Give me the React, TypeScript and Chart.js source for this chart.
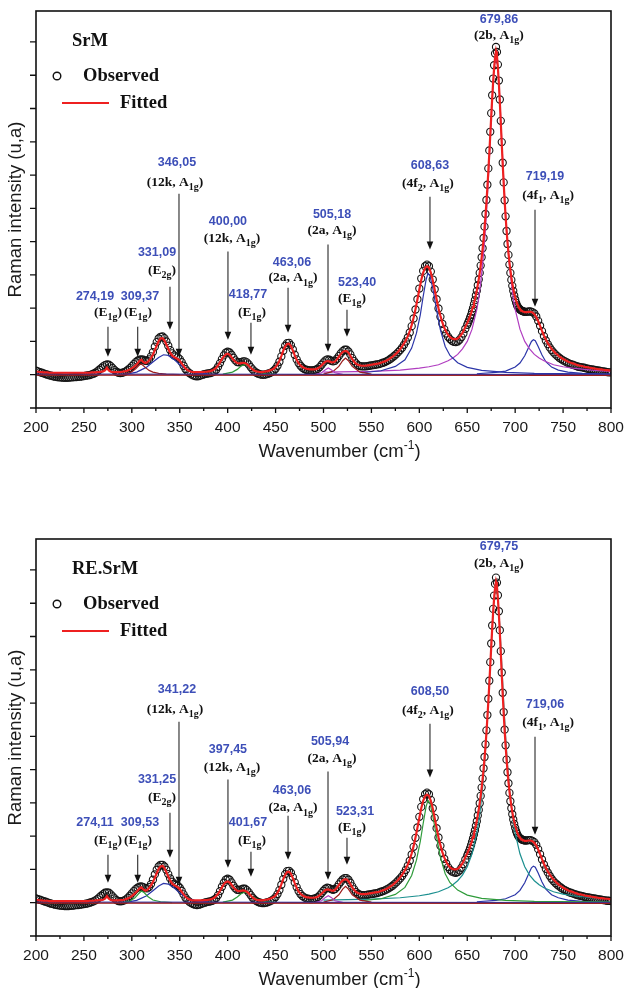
import React, { useEffect, useRef } from 'react';
import { Chart, registerables } from 'chart.js';

Chart.register(...registerables);

// wavenumber grid of the measured spectra: 2 cm-1 steps, 1 cm-1 around the 2b mode
const range = (a: number, b: number, step: number) => {
    const out: number[] = [];
    for (let v = a; v <= b + 1e-9; v += step) out.push(Math.round(v * 100) / 100);
    return out;
};
const obsGrid = [...range(200, 648, 2), ...range(650, 710, 1), ...range(712, 800, 2)];

// axis ticks
const xMajor = [200, 250, 300, 350, 400, 450, 500, 550, 600, 650, 700, 750, 800];
const xMinor = [225, 275, 325, 375, 425, 475, 525, 575, 625, 675, 725, 775];
const yTicks = [-1, 0, 1, 2, 3, 4, 5, 6, 7, 8, 9, 10];

// ---------- SrM ----------
const srmObsA = [
    0.12, 0.10, 0.08, 0.06, 0.04, 0.02, 0.00, -0.02, -0.03, -0.05,
    -0.06, -0.07, -0.08, -0.08, -0.09, -0.09, -0.09, -0.09, -0.08, -0.08,
    -0.07, -0.07, -0.06, -0.06, -0.05, -0.04, -0.03, -0.02, -0.01, 0.01,
    0.03, 0.06, 0.10, 0.15, 0.20, 0.25, 0.29, 0.31, 0.30, 0.26,
    0.20, 0.14, 0.09, 0.06, 0.05, 0.06, 0.08, 0.11, 0.15, 0.20,
    0.26, 0.32, 0.38, 0.42, 0.45, 0.46, 0.45, 0.42, 0.42, 0.46,
    0.55, 0.68, 0.84, 0.98, 1.09, 1.14, 1.15, 1.10, 1.00, 0.87,
    0.74, 0.64, 0.58, 0.55, 0.52, 0.47, 0.38, 0.27, 0.17, 0.10,
    0.05, 0.01, -0.02, -0.04, -0.05, -0.04, -0.02, 0.00, 0.02, 0.03,
    0.04, 0.05, 0.07, 0.10, 0.15, 0.24, 0.35, 0.47, 0.58, 0.66,
    0.69, 0.67, 0.60, 0.51, 0.43, 0.38, 0.37, 0.38, 0.40, 0.40,
    0.37, 0.31, 0.23, 0.16, 0.10, 0.06, 0.03, 0.01, 0.00, 0.00,
    0.01, 0.03, 0.05, 0.08, 0.12, 0.18, 0.27, 0.39, 0.55, 0.72,
    0.87, 0.95, 0.96, 0.89, 0.76, 0.60, 0.46, 0.35, 0.27, 0.21,
    0.17, 0.15, 0.14, 0.13, 0.13, 0.14, 0.15, 0.18, 0.23, 0.30,
    0.37, 0.43, 0.46, 0.45, 0.42, 0.40, 0.42, 0.48, 0.56, 0.64,
    0.71, 0.75, 0.75, 0.70, 0.61, 0.50, 0.41, 0.34, 0.29, 0.26,
    0.25, 0.25, 0.25, 0.26, 0.27, 0.28, 0.29, 0.30, 0.31, 0.32,
    0.34, 0.36, 0.38, 0.41, 0.44, 0.48, 0.52, 0.57, 0.62, 0.68,
    0.74, 0.81, 0.90, 1.00, 1.12, 1.27, 1.46, 1.69, 1.96, 2.27,
    2.59, 2.89, 3.12, 3.26, 3.31, 3.26, 3.10, 2.86, 2.57, 2.27,
    1.99, 1.74, 1.53, 1.37, 1.24, 1.14, 1.07, 1.02, 0.99, 0.98,
    1.00, 1.05, 1.13, 1.24, 1.38,
];
const srmObsB = [
    1.50, 1.57, 1.64, 1.72, 1.80, 1.90, 2.00, 2.12, 2.24, 2.38,
    2.52, 2.69, 2.86, 3.06, 3.28, 3.53, 3.80, 4.11, 4.45, 4.83,
    5.25, 5.71, 6.20, 6.74, 7.30, 7.86, 8.40, 8.90, 9.30, 9.65,
    9.85, 9.70, 9.32, 8.84, 8.27, 7.63, 6.99, 6.37, 5.78, 5.24,
    4.76, 4.32, 3.93, 3.60, 3.31, 3.06, 2.85, 2.67, 2.52, 2.38,
    2.26, 2.16, 2.08, 2.03, 1.99, 1.96, 1.94, 1.92, 1.91, 1.90,
    1.89,
];
const srmObsC = [
    1.89, 1.90, 1.90, 1.88, 1.84, 1.75, 1.62, 1.47, 1.31, 1.16,
    1.03, 0.92, 0.82, 0.74, 0.67, 0.61, 0.56, 0.51, 0.47, 0.43,
    0.40, 0.37, 0.34, 0.32, 0.30, 0.28, 0.26, 0.24, 0.23, 0.22,
    0.21, 0.19, 0.18, 0.17, 0.16, 0.15, 0.14, 0.13, 0.12, 0.11,
    0.10, 0.09, 0.08, 0.07, 0.07,
];
const srmFitA = [
    0.10, 0.09, 0.08, 0.08, 0.07, 0.07, 0.07, 0.06, 0.06, 0.06,
    0.06, 0.06, 0.06, 0.06, 0.06, 0.06, 0.06, 0.06, 0.06, 0.06,
    0.06, 0.06, 0.06, 0.06, 0.06, 0.06, 0.06, 0.06, 0.06, 0.07,
    0.07, 0.07, 0.08, 0.08, 0.09, 0.10, 0.13, 0.21, 0.13, 0.09,
    0.08, 0.08, 0.08, 0.08, 0.08, 0.09, 0.10, 0.11, 0.13, 0.16,
    0.19, 0.23, 0.28, 0.34, 0.42, 0.45, 0.38, 0.35, 0.37, 0.43,
    0.50, 0.60, 0.74, 0.88, 1.01, 1.09, 1.10, 1.03, 0.91, 0.78,
    0.66, 0.58, 0.53, 0.50, 0.47, 0.42, 0.34, 0.26, 0.19, 0.14,
    0.11, 0.09, 0.08, 0.08, 0.08, 0.08, 0.08, 0.08, 0.09, 0.09,
    0.10, 0.11, 0.13, 0.16, 0.21, 0.28, 0.37, 0.47, 0.55, 0.61,
    0.63, 0.60, 0.53, 0.45, 0.39, 0.35, 0.34, 0.35, 0.36, 0.35,
    0.32, 0.27, 0.21, 0.16, 0.12, 0.10, 0.09, 0.08, 0.08, 0.09,
    0.10, 0.11, 0.13, 0.15, 0.18, 0.23, 0.31, 0.42, 0.56, 0.72,
    0.85, 0.92, 0.93, 0.86, 0.73, 0.58, 0.45, 0.35, 0.28, 0.23,
    0.20, 0.18, 0.17, 0.16, 0.16, 0.16, 0.17, 0.19, 0.23, 0.28,
    0.34, 0.39, 0.41, 0.40, 0.38, 0.37, 0.40, 0.46, 0.54, 0.62,
    0.68, 0.71, 0.71, 0.66, 0.57, 0.47, 0.39, 0.33, 0.30, 0.28,
    0.27, 0.27, 0.27, 0.28, 0.29, 0.30, 0.31, 0.32, 0.33, 0.34,
    0.36, 0.38, 0.40, 0.43, 0.46, 0.50, 0.54, 0.59, 0.64, 0.70,
    0.77, 0.85, 0.94, 1.04, 1.16, 1.31, 1.49, 1.71, 1.97, 2.26,
    2.56, 2.85, 3.07, 3.21, 3.26, 3.22, 3.07, 2.84, 2.56, 2.27,
    2.00, 1.77, 1.57, 1.41, 1.29, 1.20, 1.13, 1.09, 1.07, 1.07,
    1.09, 1.14, 1.21, 1.31, 1.44,
];
const srmFitB = [
    1.55, 1.62, 1.69, 1.77, 1.85, 1.94, 2.04, 2.15, 2.27, 2.40,
    2.54, 2.70, 2.87, 3.06, 3.27, 3.51, 3.77, 4.06, 4.39, 4.76,
    5.17, 5.62, 6.11, 6.64, 7.19, 7.75, 8.29, 8.79, 9.20, 9.52,
    9.72, 9.58, 9.22, 8.75, 8.19, 7.57, 6.94, 6.33, 5.76, 5.24,
    4.77, 4.35, 3.98, 3.66, 3.38, 3.14, 2.93, 2.75, 2.59, 2.45,
    2.33, 2.23, 2.14, 2.07, 2.01, 1.97, 1.94, 1.92, 1.90, 1.89,
    1.88,
];
const srmFitC = [
    1.88, 1.89, 1.89, 1.87, 1.82, 1.73, 1.61, 1.47, 1.32, 1.18,
    1.06, 0.95, 0.86, 0.78, 0.71, 0.65, 0.60, 0.55, 0.51, 0.47,
    0.44, 0.41, 0.38, 0.36, 0.34, 0.32, 0.30, 0.28, 0.27, 0.26,
    0.24, 0.23, 0.22, 0.21, 0.20, 0.19, 0.18, 0.17, 0.16, 0.16,
    0.15, 0.14, 0.14, 0.13, 0.13,
];

// ---------- RE.SrM ----------
const reObsA = [
    0.13, 0.11, 0.09, 0.07, 0.05, 0.03, 0.01, -0.01, -0.03, -0.04,
    -0.06, -0.07, -0.08, -0.09, -0.09, -0.10, -0.10, -0.10, -0.09, -0.09,
    -0.08, -0.07, -0.07, -0.06, -0.05, -0.04, -0.03, -0.02, 0.00, 0.02,
    0.04, 0.07, 0.11, 0.16, 0.21, 0.26, 0.30, 0.31, 0.30, 0.25,
    0.19, 0.13, 0.08, 0.05, 0.04, 0.05, 0.07, 0.10, 0.15, 0.21,
    0.28, 0.35, 0.41, 0.45, 0.48, 0.49, 0.47, 0.44, 0.43, 0.47,
    0.56, 0.69, 0.85, 0.99, 1.09, 1.14, 1.14, 1.09, 0.99, 0.86,
    0.73, 0.63, 0.57, 0.54, 0.51, 0.45, 0.36, 0.25, 0.15, 0.08,
    0.03, -0.01, -0.04, -0.06, -0.07, -0.06, -0.04, -0.02, 0.00, 0.02,
    0.03, 0.04, 0.06, 0.09, 0.14, 0.23, 0.35, 0.48, 0.60, 0.69,
    0.72, 0.69, 0.61, 0.51, 0.43, 0.39, 0.38, 0.40, 0.42, 0.42,
    0.38, 0.31, 0.23, 0.15, 0.09, 0.05, 0.02, 0.00, -0.01, -0.01,
    0.00, 0.02, 0.04, 0.07, 0.11, 0.17, 0.26, 0.38, 0.54, 0.71,
    0.86, 0.95, 0.96, 0.90, 0.77, 0.61, 0.47, 0.35, 0.26, 0.20,
    0.16, 0.13, 0.12, 0.11, 0.11, 0.12, 0.14, 0.17, 0.22, 0.29,
    0.36, 0.42, 0.45, 0.44, 0.41, 0.39, 0.41, 0.47, 0.55, 0.63,
    0.70, 0.74, 0.74, 0.69, 0.60, 0.49, 0.40, 0.32, 0.27, 0.24,
    0.23, 0.23, 0.23, 0.24, 0.25, 0.26, 0.27, 0.28, 0.29, 0.31,
    0.33, 0.35, 0.37, 0.40, 0.43, 0.47, 0.51, 0.56, 0.61, 0.67,
    0.73, 0.80, 0.89, 0.99, 1.11, 1.26, 1.45, 1.68, 1.95, 2.26,
    2.58, 2.88, 3.11, 3.26, 3.31, 3.26, 3.09, 2.84, 2.55, 2.24,
    1.96, 1.71, 1.49, 1.32, 1.18, 1.07, 0.99, 0.94, 0.91, 0.90,
    0.92, 0.97, 1.05, 1.16, 1.30,
];
const reObsB = [
    1.42, 1.49, 1.56, 1.64, 1.73, 1.83, 1.93, 2.05, 2.17, 2.31,
    2.45, 2.62, 2.79, 2.99, 3.21, 3.46, 3.73, 4.04, 4.38, 4.76,
    5.18, 5.64, 6.13, 6.67, 7.23, 7.79, 8.33, 8.83, 9.23, 9.58,
    9.77, 9.62, 9.24, 8.76, 8.19, 7.56, 6.92, 6.31, 5.73, 5.20,
    4.73, 4.30, 3.92, 3.59, 3.30, 3.05, 2.84, 2.66, 2.50, 2.37,
    2.25, 2.15, 2.07, 2.01, 1.97, 1.94, 1.92, 1.90, 1.89, 1.88,
    1.87,
];
const reObsC = [
    1.87, 1.88, 1.88, 1.86, 1.82, 1.74, 1.61, 1.46, 1.30, 1.15,
    1.02, 0.91, 0.81, 0.72, 0.65, 0.59, 0.54, 0.49, 0.45, 0.41,
    0.38, 0.35, 0.32, 0.30, 0.28, 0.26, 0.24, 0.22, 0.21, 0.20,
    0.18, 0.17, 0.16, 0.15, 0.14, 0.13, 0.12, 0.11, 0.10, 0.09,
    0.08, 0.07, 0.06, 0.06, 0.05,
];
const reFitA = [
    0.09, 0.08, 0.07, 0.07, 0.06, 0.06, 0.06, 0.05, 0.05, 0.05,
    0.05, 0.05, 0.05, 0.05, 0.05, 0.05, 0.05, 0.05, 0.05, 0.05,
    0.05, 0.05, 0.05, 0.05, 0.05, 0.05, 0.05, 0.05, 0.06, 0.06,
    0.06, 0.07, 0.07, 0.08, 0.08, 0.09, 0.12, 0.20, 0.12, 0.08,
    0.07, 0.07, 0.07, 0.07, 0.08, 0.08, 0.09, 0.11, 0.13, 0.16,
    0.20, 0.25, 0.30, 0.36, 0.43, 0.46, 0.40, 0.36, 0.38, 0.44,
    0.52, 0.62, 0.75, 0.89, 1.02, 1.09, 1.11, 1.04, 0.92, 0.79,
    0.67, 0.58, 0.53, 0.50, 0.46, 0.41, 0.33, 0.25, 0.18, 0.13,
    0.10, 0.08, 0.07, 0.07, 0.07, 0.07, 0.07, 0.07, 0.08, 0.08,
    0.09, 0.10, 0.12, 0.15, 0.20, 0.27, 0.36, 0.46, 0.56, 0.62,
    0.64, 0.61, 0.54, 0.46, 0.40, 0.36, 0.35, 0.36, 0.37, 0.36,
    0.33, 0.28, 0.22, 0.16, 0.12, 0.09, 0.08, 0.07, 0.07, 0.08,
    0.09, 0.10, 0.12, 0.14, 0.17, 0.22, 0.30, 0.41, 0.55, 0.71,
    0.84, 0.92, 0.93, 0.87, 0.74, 0.59, 0.45, 0.34, 0.27, 0.22,
    0.19, 0.17, 0.16, 0.15, 0.15, 0.15, 0.16, 0.18, 0.22, 0.27,
    0.33, 0.38, 0.40, 0.39, 0.37, 0.36, 0.39, 0.45, 0.53, 0.61,
    0.67, 0.70, 0.70, 0.65, 0.56, 0.46, 0.38, 0.32, 0.29, 0.27,
    0.26, 0.26, 0.26, 0.27, 0.28, 0.29, 0.30, 0.31, 0.32, 0.33,
    0.35, 0.37, 0.39, 0.42, 0.45, 0.49, 0.53, 0.58, 0.63, 0.69,
    0.76, 0.84, 0.93, 1.03, 1.15, 1.30, 1.48, 1.70, 1.96, 2.25,
    2.55, 2.84, 3.06, 3.20, 3.25, 3.21, 3.06, 2.83, 2.55, 2.25,
    1.97, 1.73, 1.52, 1.36, 1.23, 1.13, 1.06, 1.02, 1.00, 1.00,
    1.02, 1.07, 1.14, 1.24, 1.37,
];
const reFitB = [
    1.48, 1.55, 1.62, 1.70, 1.78, 1.87, 1.97, 2.08, 2.20, 2.33,
    2.47, 2.63, 2.80, 2.99, 3.20, 3.44, 3.70, 3.99, 4.32, 4.69,
    5.10, 5.55, 6.04, 6.57, 7.12, 7.68, 8.22, 8.72, 9.13, 9.45,
    9.64, 9.50, 9.14, 8.67, 8.11, 7.50, 6.87, 6.27, 5.70, 5.19,
    4.73, 4.32, 3.96, 3.64, 3.36, 3.12, 2.91, 2.73, 2.57, 2.43,
    2.31, 2.21, 2.12, 2.05, 1.99, 1.95, 1.92, 1.90, 1.88, 1.87,
    1.86,
];
const reFitC = [
    1.86, 1.87, 1.87, 1.85, 1.80, 1.72, 1.60, 1.46, 1.31, 1.17,
    1.05, 0.94, 0.85, 0.77, 0.70, 0.64, 0.58, 0.53, 0.49, 0.45,
    0.42, 0.39, 0.36, 0.34, 0.32, 0.30, 0.28, 0.26, 0.25, 0.24,
    0.22, 0.21, 0.20, 0.19, 0.18, 0.17, 0.16, 0.15, 0.14, 0.14,
    0.13, 0.12, 0.12, 0.11, 0.11,
];

// ---------- fitted components (x in cm-1, y in a.u.) ----------
const baseX = [200, 800];
const srmBaseY = [0.02, 0.0];
const srmBase2Y = [-0.01, -0.02];
const c309X = [288, 296, 300, 304, 307, 309, 311, 314, 318, 322, 328, 336, 350];
const srm309Y = [0.0, 0.04, 0.09, 0.18, 0.27, 0.32, 0.30, 0.22, 0.13, 0.08, 0.04, 0.02, 0.0];
const c340X = [295, 305, 315, 322, 328, 333, 338, 344, 350, 358, 368, 380];
const srm340Y = [0.02, 0.08, 0.22, 0.38, 0.52, 0.60, 0.58, 0.46, 0.30, 0.14, 0.05, 0.02];
const c418X = [395, 405, 410, 414, 418, 422, 426, 432, 440, 450];
const srm418Y = [0.02, 0.08, 0.16, 0.26, 0.31, 0.26, 0.17, 0.08, 0.03, 0.01];
const c505X = [490, 498, 502, 505, 508, 512, 520];
const srm505Y = [0.0, 0.06, 0.15, 0.20, 0.15, 0.06, 0.01];
const c523X = [500, 510, 516, 520, 523, 526, 530, 538, 550];
const srm523Y = [0.02, 0.10, 0.25, 0.42, 0.50, 0.42, 0.25, 0.08, 0.02];
const c608X = [540, 560, 575, 585, 592, 597, 601, 604, 607, 609, 611, 614, 618, 622, 627, 632, 640, 650, 665, 690, 720, 800];
const srm608Y = [0.06, 0.12, 0.25, 0.45, 0.80, 1.25, 1.80, 2.35, 2.85, 3.05, 2.98, 2.60, 1.95, 1.35, 0.85, 0.58, 0.36, 0.22, 0.13, 0.07, 0.04, 0.02];
const mainX = [500, 550, 580, 600, 610, 620, 630, 635, 640, 645, 650, 655, 660, 662, 664, 666, 668, 670, 672, 674, 676, 678, 680, 682, 684, 686, 688, 690, 692, 694, 696, 698, 700, 705, 710, 715, 720, 725, 730, 740, 750, 760, 780, 800];
const srmMainY = [0.08, 0.10, 0.14, 0.20, 0.24, 0.30, 0.42, 0.50, 0.61, 0.78, 1.00, 1.37, 1.96, 2.30, 2.78, 3.30, 3.97, 4.83, 5.87, 7.07, 8.28, 9.23, 9.60, 9.23, 8.28, 7.07, 5.87, 4.83, 3.97, 3.30, 2.78, 2.30, 1.96, 1.37, 1.00, 0.78, 0.61, 0.50, 0.42, 0.30, 0.24, 0.20, 0.14, 0.10];
const c719X = [660, 680, 690, 700, 705, 710, 714, 717, 719, 721, 724, 728, 732, 738, 745, 755, 770, 800];
const srm719Y = [0.03, 0.07, 0.11, 0.23, 0.35, 0.57, 0.82, 1.00, 1.05, 1.02, 0.85, 0.59, 0.39, 0.23, 0.14, 0.08, 0.04, 0.02];

const reBaseY = [0.02, 0.0];
const reBase2Y = [-0.01, -0.02];
const re309X = [290, 298, 303, 307, 310, 313, 317, 322, 330, 342];
const re309Y = [0.0, 0.05, 0.14, 0.27, 0.35, 0.30, 0.18, 0.08, 0.03, 0.0];
const re340Y = [0.02, 0.07, 0.20, 0.36, 0.50, 0.58, 0.56, 0.45, 0.29, 0.13, 0.05, 0.02];
const re418Y = [0.02, 0.08, 0.17, 0.27, 0.32, 0.27, 0.18, 0.09, 0.03, 0.01];
const re505Y = [0.0, 0.06, 0.16, 0.21, 0.16, 0.06, 0.01];
const re523Y = [0.02, 0.09, 0.24, 0.41, 0.49, 0.41, 0.24, 0.08, 0.02];
const re608Y = [0.06, 0.12, 0.25, 0.46, 0.82, 1.28, 1.84, 2.38, 2.88, 3.08, 3.00, 2.62, 1.97, 1.37, 0.87, 0.60, 0.38, 0.23, 0.13, 0.07, 0.04, 0.02];
const reMainY = [0.08, 0.11, 0.15, 0.21, 0.26, 0.33, 0.45, 0.54, 0.66, 0.83, 1.08, 1.47, 2.09, 2.45, 2.89, 3.45, 4.15, 5.01, 6.03, 7.17, 8.30, 9.17, 9.50, 9.17, 8.30, 7.17, 6.03, 5.01, 4.15, 3.45, 2.89, 2.45, 2.09, 1.47, 1.08, 0.83, 0.66, 0.54, 0.45, 0.33, 0.26, 0.21, 0.15, 0.12];
const re719Y = [0.03, 0.07, 0.12, 0.24, 0.37, 0.60, 0.86, 1.05, 1.10, 1.07, 0.89, 0.62, 0.41, 0.24, 0.15, 0.08, 0.04, 0.02];

// ---------- peak labels ----------
const srmPeaks = ['274,19', '309,37', '331,09', '346,05', '400,00', '418,77', '463,06', '505,18', '523,40', '608,63', '679,86', '719,19'];
const rePeaks = ['274,11', '309,53', '331,25', '341,22', '397,45', '401,67', '463,06', '505,94', '523,31', '608,50', '679,75', '719,06'];
const modes = ['(E_{1g})', '(E_{1g})', '(E_{2g})', '(12k, A_{1g})', '(12k, A_{1g})', '(E_{1g})', '(2a, A_{1g})', '(2a, A_{1g})', '(E_{1g})', '(4f_{2}, A_{1g})', '(2b, A_{1g})', '(4f_{1}, A_{1g})'];

// label placement in axis units: [numX, numY, modeX, modeY, arrowX, arrowTop, arrowTip]
const srmLabelPos = [
    [261.6, 2.34, 275.1, 1.89, 275.1, 1.44, 0.54],
    [308.5, 2.34, 306.4, 1.89, 306.1, 1.44, 0.54],
    [326.3, 3.67, 331.5, 3.16, 339.8, 2.64, 1.35],
    [347.1, 6.37, 345.0, 5.80, 349.2, 5.44, 0.54],
    [400.3, 4.60, 404.5, 4.12, 400.3, 3.70, 1.05],
    [421.2, 2.40, 425.4, 1.89, 424.3, 1.56, 0.60],
    [467.1, 3.37, 468.2, 2.94, 463.0, 2.61, 1.26],
    [508.9, 4.81, 508.9, 4.36, 504.7, 3.91, 0.69],
    [535.0, 2.76, 529.7, 2.31, 524.5, 1.95, 1.14],
    [611.1, 6.28, 609.0, 5.77, 611.1, 5.35, 3.76],
    [683.1, 10.67, 683.1, 10.22],
    [731.1, 5.95, 734.3, 5.41, 720.7, 4.96, 2.04],
];
const reLabelPos = [
    [261.6, 2.40, 275.1, 1.89, 275.1, 1.44, 0.60],
    [308.5, 2.40, 306.4, 1.89, 306.1, 1.44, 0.60],
    [326.3, 3.70, 331.5, 3.19, 339.8, 2.70, 1.35],
    [347.1, 6.40, 345.0, 5.83, 349.2, 5.44, 0.54],
    [400.3, 4.60, 404.5, 4.09, 400.3, 3.70, 1.05],
    [421.2, 2.40, 425.4, 1.89, 424.3, 1.53, 0.78],
    [467.1, 3.37, 468.2, 2.88, 463.0, 2.61, 1.29],
    [506.8, 4.84, 508.9, 4.36, 504.7, 3.94, 0.69],
    [532.9, 2.73, 529.7, 2.28, 524.5, 1.95, 1.14],
    [611.1, 6.34, 609.0, 5.80, 611.1, 5.38, 3.76],
    [683.1, 10.70, 683.1, 10.22],
    [731.1, 5.95, 734.3, 5.44, 720.7, 4.99, 2.04],
];

const RED = '#ee2020';
const BLUE = '#2b35a8';
const MAGENTA = '#b03cc0';
const GREEN = '#2e9b3a';
const TEAL = '#1b8f8f';
const DARKRED = '#9b1c1c';
const NUM_BLUE = '#3d4fb8';
const SANS = '"Liberation Sans", Arial, sans-serif';
const SERIF = '"Liberation Serif", "Times New Roman", serif';

interface Comp { x: number[]; y: number[]; color: string }
interface PanelData {
    name: string;
    obs: number[];
    fit: number[];
    comps: Comp[];
    peaks: string[];
    labelPos: number[][];
    height: number;
}

const srmPanel: PanelData = {
    name: 'SrM',
    obs: [...srmObsA, ...srmObsB, ...srmObsC],
    fit: [...srmFitA, ...srmFitB, ...srmFitC],
    comps: [
        { x: baseX, y: srmBase2Y, color: DARKRED },
        { x: baseX, y: srmBaseY, color: BLUE },
        { x: c309X, y: srm309Y, color: DARKRED },
        { x: c340X, y: srm340Y, color: BLUE },
        { x: c418X, y: srm418Y, color: GREEN },
        { x: c505X, y: srm505Y, color: MAGENTA },
        { x: c523X, y: srm523Y, color: DARKRED },
        { x: c608X, y: srm608Y, color: BLUE },
        { x: mainX, y: srmMainY, color: MAGENTA },
        { x: c719X, y: srm719Y, color: BLUE },
    ],
    peaks: srmPeaks,
    labelPos: srmLabelPos,
    height: 528,
};

const rePanel: PanelData = {
    name: 'RE.SrM',
    obs: [...reObsA, ...reObsB, ...reObsC],
    fit: [...reFitA, ...reFitB, ...reFitC],
    comps: [
        { x: baseX, y: reBase2Y, color: DARKRED },
        { x: baseX, y: reBaseY, color: BLUE },
        { x: re309X, y: re309Y, color: GREEN },
        { x: c340X, y: re340Y, color: BLUE },
        { x: c418X, y: re418Y, color: GREEN },
        { x: c505X, y: re505Y, color: MAGENTA },
        { x: c523X, y: re523Y, color: DARKRED },
        { x: c608X, y: re608Y, color: GREEN },
        { x: mainX, y: reMainY, color: TEAL },
        { x: c719X, y: re719Y, color: BLUE },
    ],
    peaks: rePeaks,
    labelPos: reLabelPos,
    height: 460,
};

const pts = (xs: number[], ys: number[]) => xs.map((x, i) => ({ x, y: ys[i] }));

// draws "(12k, A_{1g})" style text with subscripts, centred on (cx, cy)
const drawRich = (ctx: CanvasRenderingContext2D, text: string, cx: number, cy: number, size: number) => {
    const parts = text.split(/_\{([^}]*)\}/);
    const big = `bold ${size}px ${SERIF}`;
    const small = `bold ${Math.round(size * 0.76)}px ${SERIF}`;
    let w = 0;
    parts.forEach((p, i) => { ctx.font = i % 2 ? small : big; w += ctx.measureText(p).width; });
    let x = cx - w / 2;
    ctx.textAlign = 'left';
    ctx.textBaseline = 'alphabetic';
    parts.forEach((p, i) => {
        ctx.font = i % 2 ? small : big;
        ctx.fillText(p, x, cy + size * 0.34 + (i % 2 ? size * 0.3 : 0));
        x += ctx.measureText(p).width;
    });
};

const drawArrow = (ctx: CanvasRenderingContext2D, x: number, y0: number, y1: number) => {
    ctx.strokeStyle = '#3a3a3a';
    ctx.lineWidth = 1.2;
    ctx.beginPath();
    ctx.moveTo(x, y0);
    ctx.lineTo(x, y1 - 6);
    ctx.stroke();
    ctx.fillStyle = '#111';
    ctx.beginPath();
    ctx.moveTo(x, y1);
    ctx.lineTo(x - 3.3, y1 - 8);
    ctx.lineTo(x + 3.3, y1 - 8);
    ctx.closePath();
    ctx.fill();
};

const decorPlugin = (p: PanelData) => ({
    id: 'decor',
    afterDatasetsDraw(chart: any) {
        const { ctx, chartArea: a } = chart;
        const px = (v: number) => chart.scales.x.getPixelForValue(v);
        const py = (v: number) => chart.scales.y.getPixelForValue(v);
        ctx.save();

        // frame and ticks
        ctx.strokeStyle = '#111';
        ctx.lineWidth = 1.6;
        ctx.strokeRect(a.left, a.top, a.right - a.left, a.bottom - a.top);
        ctx.lineWidth = 1.3;
        ctx.beginPath();
        xMajor.forEach((v) => { ctx.moveTo(px(v), a.bottom); ctx.lineTo(px(v), a.bottom + 5); });
        xMinor.forEach((v) => { ctx.moveTo(px(v), a.bottom); ctx.lineTo(px(v), a.bottom + 3); });
        yTicks.forEach((v) => { ctx.moveTo(a.left, py(v)); ctx.lineTo(a.left - 6, py(v)); });
        ctx.stroke();

        // tick labels
        ctx.fillStyle = '#1a1a1a';
        ctx.font = `15.5px ${SANS}`;
        ctx.textAlign = 'center';
        ctx.textBaseline = 'middle';
        xMajor.forEach((v) => ctx.fillText(String(v), px(v), a.bottom + 20));

        // x title with superscript
        const segs: [string, boolean][] = [['Wavenumber (cm', false], ['-1', true], [')', false]];
        const fBig = `18.5px ${SANS}`;
        const fSup = `12px ${SANS}`;
        let tw = 0;
        segs.forEach(([s, sup]) => { ctx.font = sup ? fSup : fBig; tw += ctx.measureText(s).width; });
        let tx = 339.5 - tw / 2;
        ctx.textAlign = 'left';
        ctx.textBaseline = 'alphabetic';
        segs.forEach(([s, sup]) => {
            ctx.font = sup ? fSup : fBig;
            ctx.fillText(s, tx, a.bottom + 49 + (sup ? -8 : 0));
            tx += ctx.measureText(s).width;
        });

        // y title
        ctx.save();
        ctx.translate(16, (a.top + a.bottom) / 2);
        ctx.rotate(-Math.PI / 2);
        ctx.font = `18.5px ${SANS}`;
        ctx.textAlign = 'center';
        ctx.textBaseline = 'middle';
        ctx.fillText('Raman intensity (u,a)', 0, 0);
        ctx.restore();

        // legend
        ctx.fillStyle = '#111';
        ctx.font = `bold 18.5px ${SERIF}`;
        ctx.textAlign = 'left';
        ctx.textBaseline = 'middle';
        ctx.fillText(p.name, a.left + 36, a.top + 30);
        ctx.fillText('Observed', a.left + 47, a.top + 65);
        ctx.fillText('Fitted', a.left + 84, a.top + 92);
        ctx.strokeStyle = '#111';
        ctx.lineWidth = 1.4;
        ctx.beginPath();
        ctx.arc(a.left + 21, a.top + 65, 3.8, 0, Math.PI * 2);
        ctx.stroke();
        ctx.strokeStyle = RED;
        ctx.lineWidth = 2;
        ctx.beginPath();
        ctx.moveTo(a.left + 26, a.top + 92);
        ctx.lineTo(a.left + 73, a.top + 92);
        ctx.stroke();

        // peak annotations
        p.peaks.forEach((num, i) => {
            const pos = p.labelPos[i];
            ctx.fillStyle = NUM_BLUE;
            ctx.font = `bold 12.5px ${SANS}`;
            ctx.textAlign = 'center';
            ctx.textBaseline = 'middle';
            ctx.fillText(num, px(pos[0]), py(pos[1]));
            ctx.fillStyle = '#111';
            drawRich(ctx, modes[i], px(pos[2]), py(pos[3]), 13.5);
            if (pos.length > 4) drawArrow(ctx, px(pos[4]), py(pos[5]), py(pos[6]));
        });

        ctx.restore();
    },
});

const buildConfig = (p: PanelData): any => ({
    type: 'scatter',
    data: {
        datasets: [
            {
                label: 'Fitted',
                data: pts(obsGrid, p.fit),
                showLine: true,
                borderColor: RED,
                borderWidth: 2.2,
                pointRadius: 0,
                order: 0,
            },
            ...p.comps.map((c) => ({
                data: pts(c.x, c.y),
                showLine: true,
                borderColor: c.color,
                borderWidth: 1.2,
                pointRadius: 0,
                order: 1,
            })),
            {
                label: 'Observed',
                data: pts(obsGrid, p.obs),
                showLine: false,
                pointRadius: 3.6,
                pointBorderWidth: 1.1,
                pointBorderColor: '#141414',
                pointBackgroundColor: 'rgba(255,255,255,0)',
                order: 2,
            },
        ],
    },
    options: {
        animation: false,
        responsive: true,
        maintainAspectRatio: false,
        events: [],
        layout: { padding: { left: 36, right: 13, top: 11, bottom: p.height - 408 } },
        plugins: { legend: { display: false }, tooltip: { enabled: false } },
        scales: {
            x: { type: 'linear', min: 200, max: 800, display: false },
            y: { type: 'linear', min: -1, max: 10.93, display: false },
        },
    },
    plugins: [decorPlugin(p)],
});

const SpectrumPanel = ({ panel }: { panel: PanelData }) => {
    const canvasRef = useRef<HTMLCanvasElement>(null);

    useEffect(() => {
        if (!canvasRef.current) return;
        const chart = new Chart(canvasRef.current, buildConfig(panel));
        return () => chart.destroy();
    }, [panel]);

    return (
        <div style={{ position: 'relative', width: 624, height: panel.height }}>
            <canvas ref={canvasRef}></canvas>
        </div>
    );
};

export default function App() {
    useEffect(() => {
        document.body.style.margin = '0';
        document.body.style.background = '#fff';
    }, []);

    return (
        <div style={{ width: 624, background: '#fff' }}>
            <SpectrumPanel panel={srmPanel} />
            <SpectrumPanel panel={rePanel} />
        </div>
    );
}
